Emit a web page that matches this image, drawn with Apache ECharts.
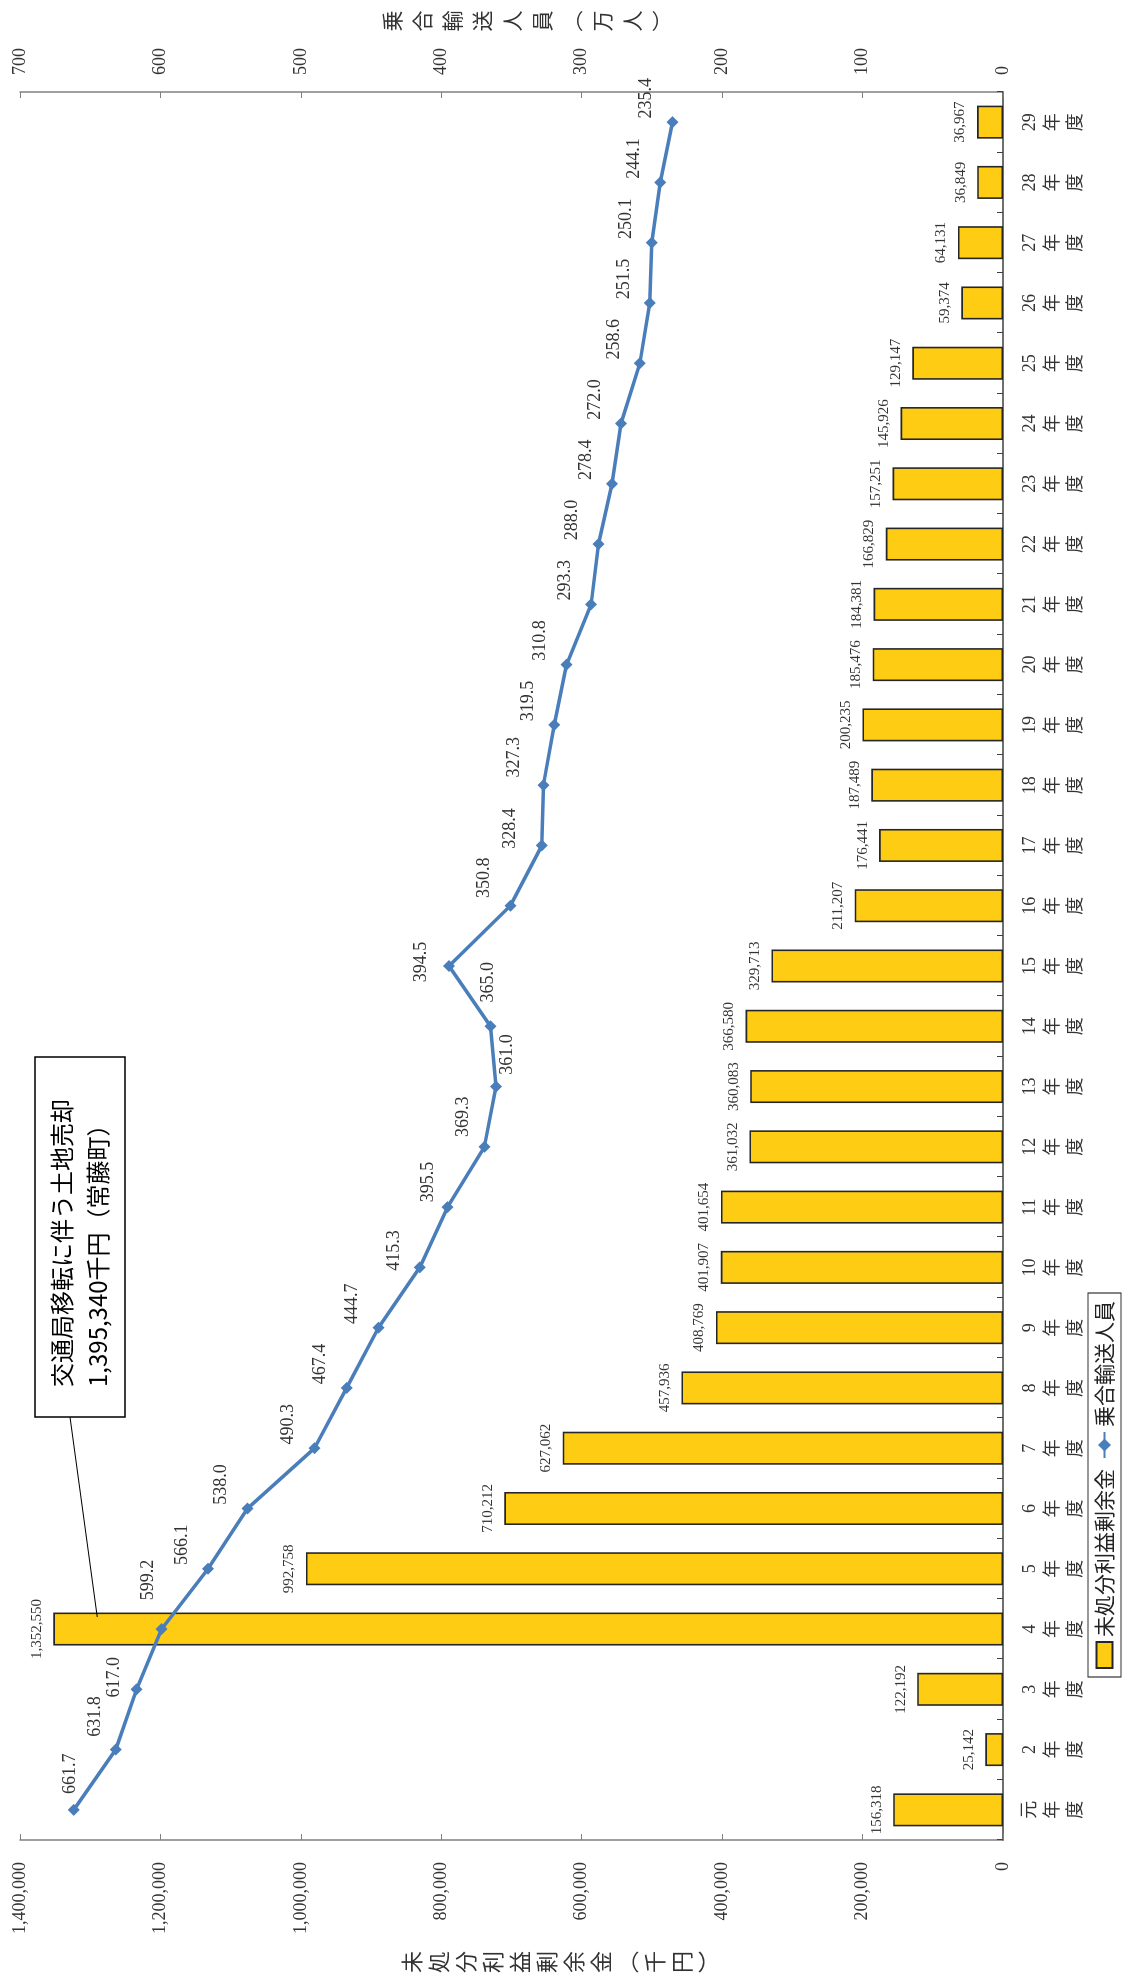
<!DOCTYPE html>
<html lang="ja">
<head>
<meta charset="utf-8">
<title>未処分利益剰余金と乗合輸送人員の推移</title>
<script src="https://cdn.jsdelivr.net/npm/echarts@6/dist/echarts.min.js"></script>
<style>
  html, body { margin: 0; padding: 0; background: #fff; overflow: hidden; }
  body { width: 1128px; height: 1977px; position: relative; }
  /* The chart is laid out landscape and turned a quarter turn counter-clockwise */
  #chart {
    position: absolute; left: 0; top: 0;
    width: 1977px; height: 1128px;
    transform-origin: 0 0;
    transform: translateY(1977px) rotate(-90deg);
  }
</style>
</head>
<body>
<div id="chart"></div>
<script>
// Fiscal years (Heisei 元 to 29)
const categories = ['元年度', '2年度', '3年度', '4年度', '5年度', '6年度', '7年度', '8年度', '9年度', '10年度',
  '11年度', '12年度', '13年度', '14年度', '15年度', '16年度', '17年度', '18年度', '19年度', '20年度',
  '21年度', '22年度', '23年度', '24年度', '25年度', '26年度', '27年度', '28年度', '29年度'];

// 未処分利益剰余金 (千円)
const surplus = [156318, 25142, 122192, 1352550, 992758, 710212, 627062, 457936, 408769, 401907,
  401654, 361032, 360083, 366580, 329713, 211207, 176441, 187489, 200235, 185476,
  184381, 166829, 157251, 145926, 129147, 59374, 64131, 36849, 36967];

// 乗合輸送人員 (万人)
const riders = [661.7, 631.8, 617.0, 599.2, 566.1, 538.0, 490.3, 467.4, 444.7, 415.3,
  395.5, 369.3, 361.0, 365.0, 394.5, 350.8, 328.4, 327.3, 319.5, 310.8,
  293.3, 288.0, 278.4, 272.0, 258.6, 251.5, 250.1, 244.1, 235.4];

// Axis tick values
const surplusTicks = [0, 200000, 400000, 600000, 800000, 1000000, 1200000, 1400000];
const riderTicks = [0, 100, 200, 300, 400, 500, 600, 700];

const seriesNames = ['未処分利益剰余金', '乗合輸送人員'];
const leftTitle = '未処分利益剰余金︵千円︶';
const rightTitle = '乗合輸送人員︵万人︶';
const noteLines = ['交通局移転に伴う土地売却', '1,395,340千円（常藤町）'];
const noteYear = '4年度';
const noteValue = 1290000;

// Where each ridership label sits, as the centre offset [dx, dy] from its point
const riderLabelDefault = [24, -20];
const riderLabelPlace = {
  0: [36, 2], 1: [33, -15], 2: [12, -16], 3: [49, -7],
  9: [17, -20], 10: [25, -13], 11: [30, -15], 12: [32, 17], 13: [44, 4],
  14: [4, -22], 15: [28, -20], 16: [17, -26], 17: [28, -23]
};

const SERIF = '"Liberation Serif", "Noto Sans CJK JP", serif';
const CJK = '"Noto Sans CJK JP", sans-serif';
const fmt = v => Number(v).toLocaleString('en-US');
const stack = s => Array.from(s).join('\n');

// 'top' with distance 9 puts an 18px label's centre 18px above its point
const riderData = riders.map((v, i) => {
  const c = riderLabelPlace[i] || riderLabelDefault;
  return { value: v, label: { offset: [c[0], c[1] + 18] } };
});

const chart = echarts.init(document.getElementById('chart'), null, { renderer: 'canvas', width: 1977, height: 1128 });

chart.setOption({
  animation: false,
  backgroundColor: '#ffffff',
  grid: { left: 137, right: 92, top: 20, bottom: 125, containLabel: false },
  legend: {
    data: [
      { name: seriesNames[0], icon: 'rect' },
      { name: seriesNames[1] }
    ],
    left: 300, top: 1088,
    orient: 'horizontal',
    itemWidth: 26, itemHeight: 16, itemGap: 10,
    padding: [6, 8],
    borderColor: '#333', borderWidth: 1.2,
    textStyle: { fontFamily: CJK, fontSize: 21, color: '#222' }
  },
  xAxis: {
    type: 'category',
    data: categories,
    axisLine: { lineStyle: { color: '#404040', width: 1.5 } },
    axisTick: { show: true, inside: true, length: 6, alignWithLabel: false, lineStyle: { color: '#404040' } },
    axisLabel: {
      interval: 0, margin: 16,
      fontFamily: SERIF, fontSize: 18, lineHeight: 23, color: '#333',
      formatter: v => v.replace(/^(.+?)(年)(度)$/, '$1\n$2\n$3')
    }
  },
  yAxis: [
    {
      type: 'value', position: 'left',
      min: surplusTicks[0], max: surplusTicks[surplusTicks.length - 1],
      interval: surplusTicks[1] - surplusTicks[0],
      axisLine: { show: true, lineStyle: { color: '#7f7f7f', width: 1.5 } },
      axisTick: { show: true, inside: true, length: 6, lineStyle: { color: '#7f7f7f' } },
      splitLine: { show: false },
      axisLabel: { margin: 22, fontFamily: SERIF, fontSize: 18, color: '#333', formatter: fmt }
    },
    {
      type: 'value', position: 'right',
      min: riderTicks[0], max: riderTicks[riderTicks.length - 1],
      interval: riderTicks[1] - riderTicks[0],
      axisLine: { show: true, lineStyle: { color: '#7f7f7f', width: 1.5 } },
      axisTick: { show: true, inside: true, length: 6, lineStyle: { color: '#7f7f7f' } },
      splitLine: { show: false },
      axisLabel: { margin: 17, fontFamily: SERIF, fontSize: 18, color: '#333' }
    }
  ],
  series: [
    {
      name: seriesNames[0],
      type: 'bar',
      yAxisIndex: 0,
      data: surplus,
      barWidth: 33,
      itemStyle: { color: '#FFCC14', borderColor: '#262626', borderWidth: 1.6 },
      label: {
        show: true, position: 'top', distance: 9,
        fontFamily: SERIF, fontSize: 15, color: '#333',
        formatter: p => fmt(p.value)
      },
      z: 2
    },
    {
      name: seriesNames[1],
      type: 'line',
      yAxisIndex: 1,
      data: riderData,
      symbol: 'diamond',
      symbolSize: 12,
      lineStyle: { color: '#4A7EBB', width: 3.5 },
      itemStyle: { color: '#4A7EBB' },
      label: {
        show: true, position: 'top', distance: 9,
        fontFamily: SERIF, fontSize: 18, color: '#333',
        formatter: p => p.value.toFixed(1)
      },
      z: 3
    }
  ]
});

// Axis titles and the land-sale note
function drawExtras() {
  const idx = categories.indexOf(noteYear);
  const end = chart.convertToPixel({ xAxisIndex: 0, yAxisIndex: 0 }, [idx, noteValue]);
  chart.setOption({
    graphic: [
      {
        type: 'text', x: 15, y: 560,
        style: {
          text: stack(leftTitle), font: '22px ' + CJK, lineHeight: 27,
          fill: '#333', align: 'center', verticalAlign: 'middle'
        }
      },
      {
        type: 'text', x: 1956, y: 527,
        style: {
          text: stack(rightTitle), font: '21px ' + CJK, lineHeight: 30,
          fill: '#333', align: 'center', verticalAlign: 'middle'
        }
      },
      {
        type: 'line',
        shape: { x1: 560, y1: 70, x2: end[0] + 12, y2: end[1] },
        style: { stroke: '#000', lineWidth: 1.2 },
        z: 10
      },
      {
        type: 'rect',
        shape: { x: 560, y: 35, width: 360, height: 90 },
        style: { fill: '#fff', stroke: '#000', lineWidth: 1.5 },
        z: 10
      },
      {
        type: 'text', x: 590, y: 80, z: 11,
        style: {
          text: noteLines.join('\n'), font: '24px ' + CJK, lineHeight: 36,
          fill: '#000', align: 'left', verticalAlign: 'middle'
        }
      }
    ]
  });
}
drawExtras();
</script>
</body>
</html>
